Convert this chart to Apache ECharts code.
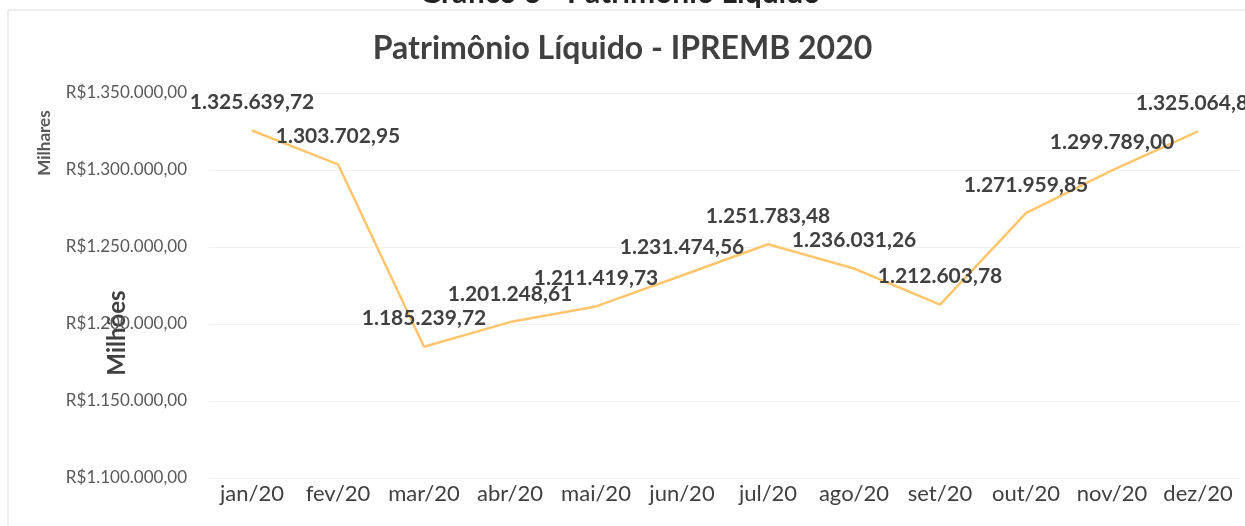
<!DOCTYPE html>
<html>
<head>
<meta charset="utf-8">
<script src="https://cdn.jsdelivr.net/npm/echarts@6/dist/echarts.min.js"></script>
<style>
  html, body { margin: 0; padding: 0; background: #fff; }
  #chart { width: 1245px; height: 526px; }
</style>
</head>
<body>
<div id="chart"></div>
<script>
const months = ['jan/20', 'fev/20', 'mar/20', 'abr/20', 'mai/20', 'jun/20', 'jul/20', 'ago/20', 'set/20', 'out/20', 'nov/20', 'dez/20']
const patrimonio = [1325639.72, 1303702.95, 1185239.72, 1201248.61, 1211419.73, 1231474.56, 1251783.48, 1236031.26, 1212603.78, 1271959.85, 1299789.00, 1325064.85]
const yTicks = [1100000, 1150000, 1200000, 1250000, 1300000, 1350000]

// formato brasileiro: 1.234.567,89
function fmtBR(v) {
  const parts = v.toFixed(2).split('.')
  const int = parts[0].replace(/\B(?=(\d{3})+(?!\d))/g, '.')
  return int + ',' + parts[1]
}

const font = 'Lato, "Open Sans", sans-serif'
const chart = echarts.init(document.getElementById('chart'), null, { renderer: 'canvas' })
chart.setOption({
  backgroundColor: '#fff',
  animation: false,
  textStyle: { fontFamily: font },
  title: {
    text: 'Patrimônio Líquido - IPREMB 2020',
    left: 'center',
    top: 28,
    textStyle: { color: '#404040', fontSize: 32, fontWeight: 'bold', fontFamily: font },
  },
  graphic: [
    { type: 'rect', shape: { x: 8, y: 10, width: 1250, height: 530 }, style: { fill: 'none', stroke: '#dcdcdc', lineWidth: 1 } },
    { type: 'text', x: 620, y: -22, style: { text: 'Gráfico 6 - Patrimônio Líquido', fill: '#222', font: 'bold 30px ' + font, textAlign: 'center' } },
    { type: 'text', x: 45, y: 143, rotation: Math.PI / 2, style: { text: 'Milhares', fill: '#595959', font: 'bold 17px ' + font, textAlign: 'center', textVerticalAlign: 'middle' } },
    { type: 'text', x: 117, y: 333, rotation: Math.PI / 2, style: { text: 'Milhões', fill: '#404040', font: 'bold 24px ' + font, textAlign: 'center', textVerticalAlign: 'middle' } },
  ],
  grid: { top: 93, bottom: 48, left: 209, right: 4, containLabel: false },
  xAxis: {
    type: 'category',
    data: months,
    axisLine: { show: false },
    axisTick: { show: false },
    axisLabel: { color: '#404040', fontSize: 22, margin: 5, interval: 0, fontFamily: font },
  },
  yAxis: {
    type: 'value',
    min: yTicks[0],
    max: yTicks[yTicks.length - 1],
    interval: 50000,
    axisLine: { show: false },
    axisTick: { show: false },
    splitLine: { lineStyle: { color: '#f2f2f2' } },
    axisLabel: { color: '#595959', fontSize: 17, margin: 22, fontFamily: font, formatter: v => 'R$' + fmtBR(v) },
  },
  series: [{
    type: 'line',
    data: patrimonio,
    symbol: 'circle',
    symbolSize: 1,
    itemStyle: { color: '#FDC66E' },
    lineStyle: { color: '#FDC66E', width: 2.5 },
    labelLayout: { hideOverlap: false },
    label: {
      show: true,
      position: 'top',
      distance: 17,
      offset: [-4, 0],
      color: '#404040',
      fontSize: 21,
      fontWeight: 'bold',
      fontFamily: font,
      formatter: p => fmtBR(p.value),
    },
  }],
})
</script>
</body>
</html>
